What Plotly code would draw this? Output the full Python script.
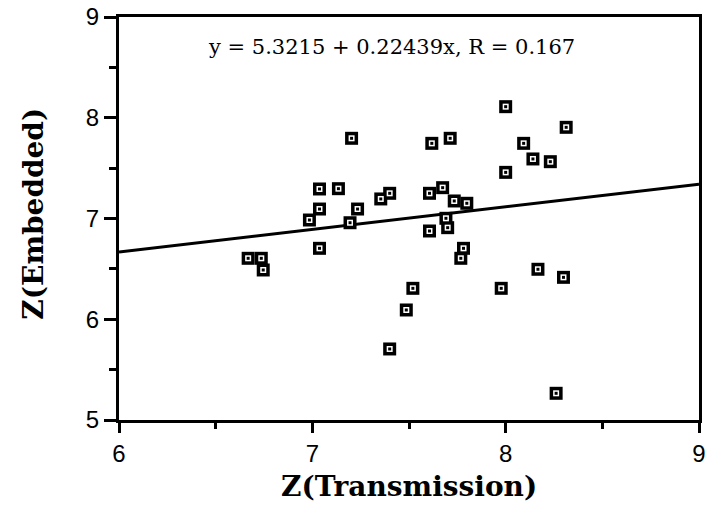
import plotly.graph_objects as go

# Data
z_transmission = [6.668, 6.736, 6.746, 6.985, 7.037, 7.037, 7.037, 7.135, 7.203, 7.195,
                  7.234, 7.354, 7.400, 7.400, 7.486, 7.520, 7.606, 7.618, 7.606, 7.674,
                  7.691, 7.700, 7.713, 7.734, 7.799, 7.782, 7.768, 7.977, 8.000, 8.000,
                  8.093, 8.141, 8.231, 8.313, 8.167, 8.299, 8.261]
z_embedded = [6.605, 6.605, 6.489, 6.985, 7.094, 7.293, 6.704, 7.296, 7.796, 6.958,
              7.094, 7.194, 7.250, 5.705, 6.092, 6.307, 7.250, 7.746, 6.876, 7.306,
              7.002, 6.909, 7.796, 7.174, 7.151, 6.704, 6.605, 6.307, 8.110, 7.458,
              7.746, 7.591, 7.564, 7.905, 6.496, 6.416, 5.265]

fit_intercept = 5.3215
fit_slope = 0.22439
fit_r = 0.167
fit_x = [6, 9]
fit_y = [fit_intercept + fit_slope * v for v in fit_x]

x_ticks = [6, 7, 8, 9]
y_ticks = [5, 6, 7, 8, 9]

fig = go.Figure()
fig.add_trace(go.Scatter(x=fit_x, y=fit_y, mode="lines",
                         line=dict(color="black", width=3), hoverinfo="skip",
                         showlegend=False))
fig.add_trace(go.Scatter(x=z_transmission, y=z_embedded, mode="markers",
                         marker=dict(symbol="square", size=13, color="black"),
                         showlegend=False))
fig.add_trace(go.Scatter(x=z_transmission, y=z_embedded, mode="markers",
                         marker=dict(symbol="square", size=6, color="white"),
                         hoverinfo="skip", showlegend=False))
fig.add_trace(go.Scatter(x=z_transmission, y=z_embedded, mode="markers",
                         marker=dict(symbol="square", size=3, color="black"),
                         hoverinfo="skip", showlegend=False))

tickfont = dict(family="Liberation Sans, Arial, sans-serif", size=24, color="black")

fig.update_xaxes(range=[6, 9], tickvals=x_ticks, ticktext=[str(v) for v in x_ticks],
                 ticks="outside", ticklen=10, tickwidth=3, tickcolor="black",
                 minor=dict(dtick=0.5, tick0=6, ticks="outside", ticklen=6,
                            tickwidth=3, tickcolor="black", showgrid=False),
                 showline=True, linewidth=3, linecolor="black", mirror=True,
                 showgrid=False, zeroline=False, tickfont=tickfont, automargin=False,
                 ticklabeloverflow="allow")
fig.update_yaxes(range=[5, 9], tickvals=y_ticks, ticktext=[str(v) for v in y_ticks],
                 ticks="outside", ticklen=12, tickwidth=3, tickcolor="black",
                 minor=dict(dtick=0.5, tick0=5, ticks="outside", ticklen=7,
                            tickwidth=3, tickcolor="black", showgrid=False),
                 showline=True, linewidth=3, linecolor="black", mirror=True,
                 showgrid=False, zeroline=False, tickfont=tickfont, automargin=False,
                 ticklabeloverflow="allow")

fig.add_annotation(xref="paper", yref="paper", x=0.4695, y=0.926,
                   text=f"y = {fit_intercept} + {fit_slope}x, R = {fit_r}",
                   showarrow=False, xanchor="center", yanchor="middle",
                   font=dict(family="DejaVu Serif, serif", size=21, color="black"))
fig.add_annotation(xref="paper", yref="paper", x=0.5, y=-0.166,
                   text="<b>Z(Transmission)</b>", showarrow=False,
                   xanchor="center", yanchor="middle",
                   font=dict(family="DejaVu Serif, serif", size=28, color="black"))
fig.add_annotation(xref="paper", yref="paper", x=-0.149, y=0.511,
                   text="<b>Z(Embedded)</b>", showarrow=False, textangle=-90,
                   xanchor="center", yanchor="middle",
                   font=dict(family="DejaVu Serif, serif", size=28, color="black"))

fig.update_layout(width=707, height=505, autosize=False,
                  margin=dict(l=119, r=8, t=17, b=85),
                  paper_bgcolor="white", plot_bgcolor="white")

# Remove the browser's default body margin so the figure fills the window.
fig.write_html("out.html", config={"responsive": False, "displayModeBar": False},
               post_script="document.body.style.margin='0px';"
                           "document.body.style.overflow='hidden';")
